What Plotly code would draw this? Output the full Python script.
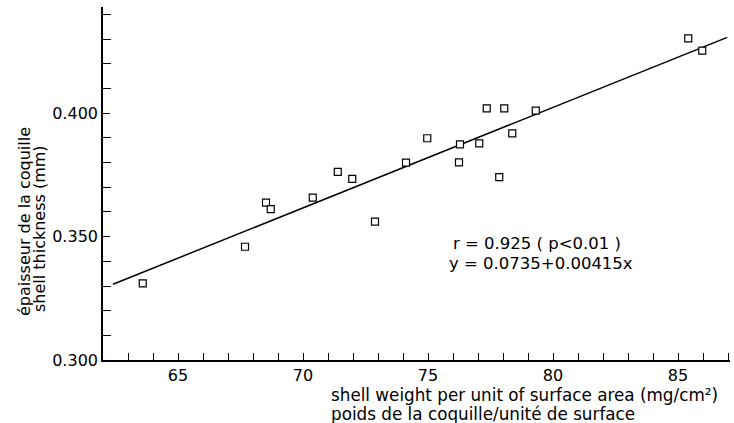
import plotly.graph_objects as go

# Data
shell_weight = [63.59, 67.68, 68.52, 68.71, 70.39, 71.39, 71.97, 72.88, 74.12, 74.97,
                76.28, 76.24, 77.35, 77.05, 78.05, 78.37, 77.85, 79.31, 85.41, 85.97]
shell_thickness = [0.3311, 0.3459, 0.3638, 0.3612, 0.3658, 0.3763, 0.3734, 0.3561, 0.3800, 0.3899,
                   0.3874, 0.3801, 0.4020, 0.3878, 0.4020, 0.3919, 0.3741, 0.4011, 0.4304, 0.4254]
fit_x = [62.4, 86.97]
fit_y = [0.3307, 0.4308]

x_title_lines = ["shell weight per unit of surface area (mg/cm²)",
                 "poids de la coquille/unité de surface"]
y_title_lines = ["épaisseur de la coquille", "shell thickness (mm)"]
stats_lines = ["r = 0.925 ( p<0.01 )", "y = 0.0735+0.00415x"]

FONT = "DejaVu Sans"
W, H = 734, 423
L, R, T, B = 103, 4, 7, 63
PW, PH = W - L - R, H - T - B


def px(x):
    return (x - L) / PW


def py(y):
    return (H - B - y) / PH


fig = go.Figure()
fig.add_trace(go.Scatter(x=fit_x, y=fit_y, mode="lines",
                         line=dict(color="black", width=1.5), hoverinfo="skip"))
fig.add_trace(go.Scatter(x=shell_weight, y=shell_thickness, mode="markers",
                         marker=dict(symbol="square", size=7, color="white",
                                     line=dict(color="black", width=1.2))))

axis_common = dict(showgrid=False, zeroline=False, showline=True, linecolor="black",
                   linewidth=1.6, ticks="inside", tickcolor="black", tickwidth=1.4,
                   ticklen=7, tickfont=dict(family=FONT, size=16, color="black"))

fig.update_xaxes(range=[62, 87.08], tick0=65, dtick=5,
                 minor=dict(dtick=1, tick0=62, ticks="inside", ticklen=7,
                            tickcolor="black", tickwidth=1.4),
                 **axis_common)
fig.update_yaxes(range=[0.300, 0.4431], tick0=0.3, dtick=0.05, tickformat=".3f",
                 minor=dict(dtick=0.01, tick0=0.3, ticks="inside", ticklen=8,
                            tickcolor="black", tickwidth=1.4),
                 **axis_common)


def f(size):
    return dict(family=FONT, size=size, color="black")


annotations = [
    dict(text=x_title_lines[0], x=px(329), y=py(395), xanchor="left", yanchor="middle",
         font=f(16.8)),
    dict(text=x_title_lines[1], x=px(329), y=py(414.3), xanchor="left", yanchor="middle",
         font=f(16.8)),
    dict(text=y_title_lines[0], x=px(24), y=py(222), textangle=-90,
         xanchor="center", yanchor="middle", font=f(16)),
    dict(text=y_title_lines[1], x=px(39), y=py(229), textangle=-90,
         xanchor="center", yanchor="middle", font=f(16)),
    dict(text=stats_lines[0], x=px(451), y=py(243.5), xanchor="left", yanchor="middle",
         font=f(16.5)),
    dict(text=stats_lines[1], x=px(447), y=py(263), xanchor="left", yanchor="middle",
         font=f(16.5)),
]
for a in annotations:
    a.update(xref="paper", yref="paper", showarrow=False)

fig.update_layout(width=W, height=H, margin=dict(l=L, r=R, t=T, b=B),
                  paper_bgcolor="white", plot_bgcolor="white", showlegend=False,
                  annotations=annotations)

fig.write_html("out.html")
